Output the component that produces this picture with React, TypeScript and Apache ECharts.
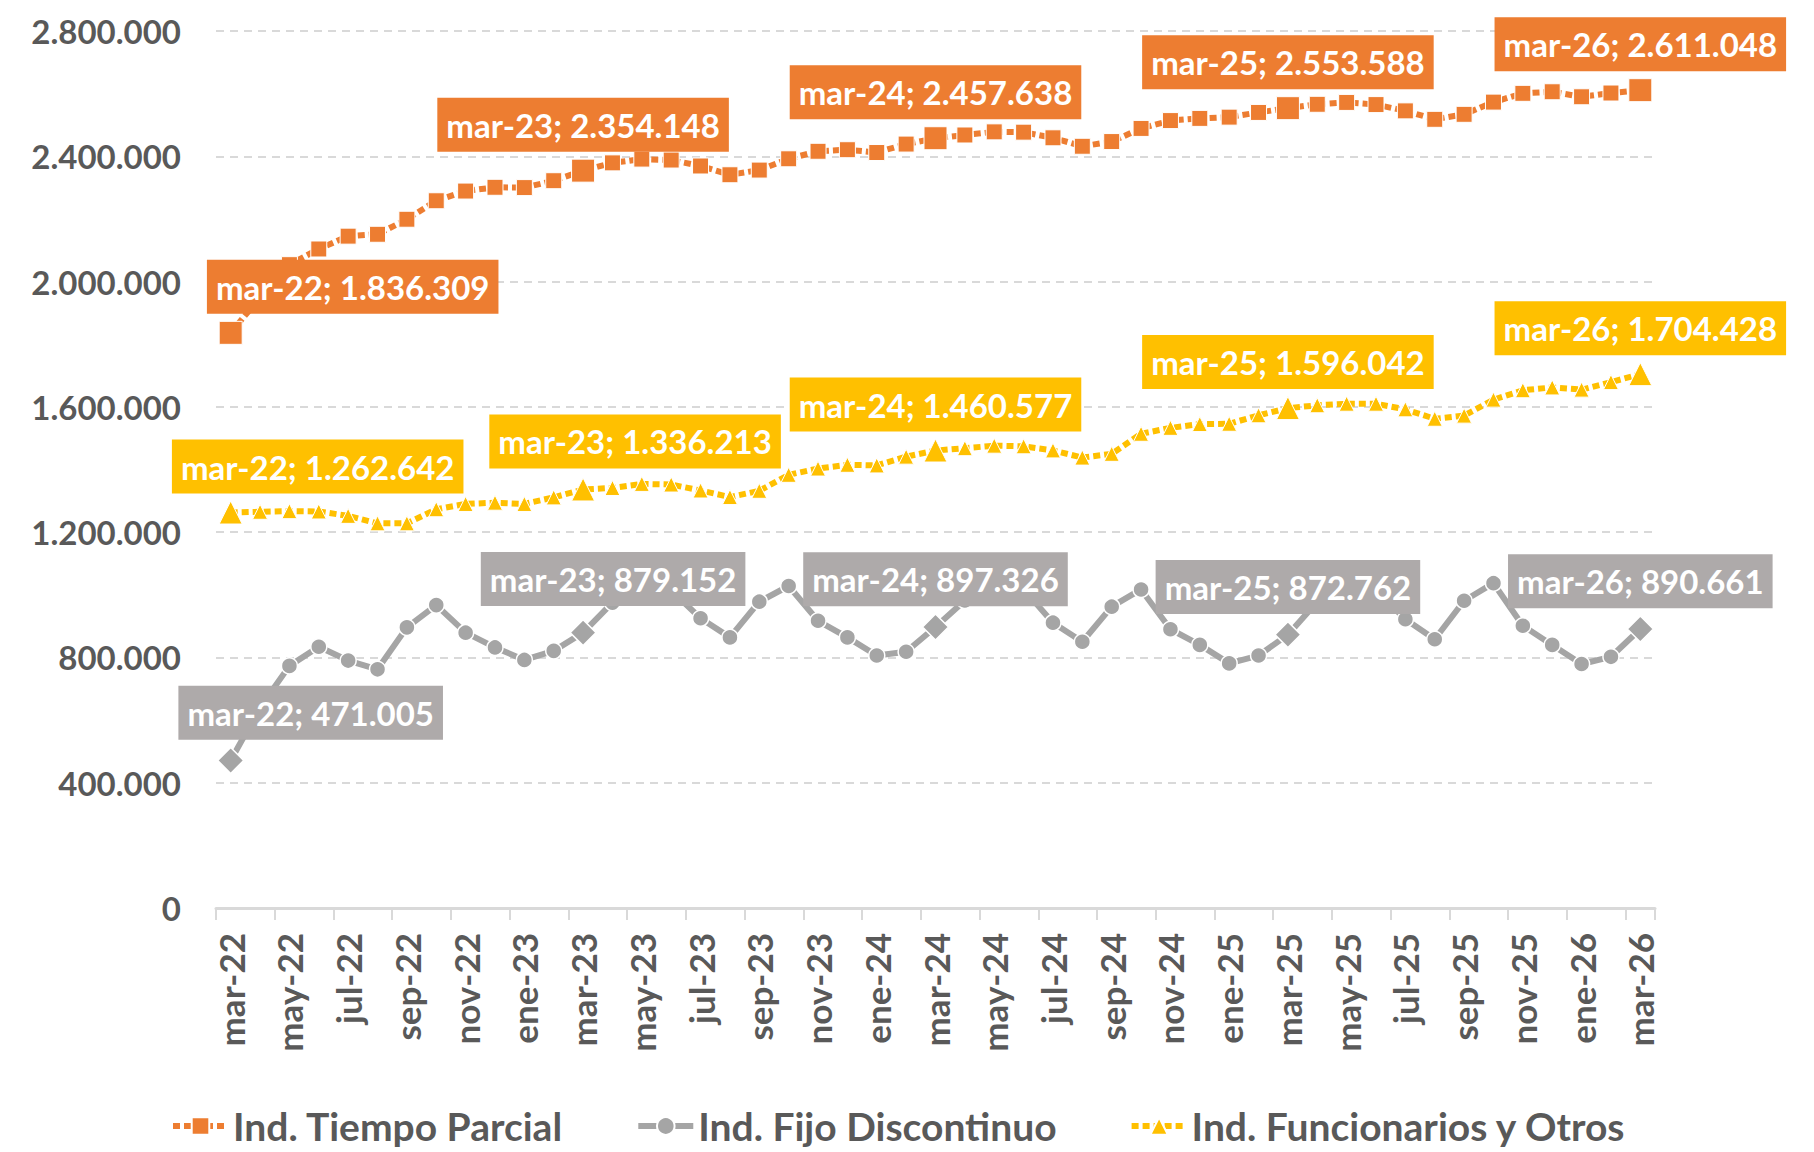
import React, { useEffect, useRef } from "react";
import * as echarts from "echarts";

const months = ["ene", "feb", "mar", "abr", "may", "jun", "jul", "ago", "sep", "oct", "nov", "dic"];
const categories: string[] = [];
for (let k = 0; k < 49; k++) {
  const m = (2 + k) % 12;
  const y = 22 + Math.floor((2 + k) / 12);
  categories.push(`${months[m]}-${y}`);
}

const tiempoParcial = [
  1836309, 1950000, 2054000, 2104000, 2145000, 2151000, 2199000, 2258000, 2289000, 2301000, 2300000, 2322000,
  2354148, 2379000, 2391000, 2388000, 2369000, 2341000, 2356000, 2392000, 2416000, 2421000, 2412000, 2439000,
  2457638, 2468000, 2478000, 2477000, 2459000, 2432000, 2447000, 2489000, 2514000, 2521000, 2525000, 2540000,
  2553588, 2566000, 2572000, 2565000, 2545000, 2518000, 2534000, 2573000, 2601000, 2606000, 2590000, 2602000,
  2611048,
];

const fijoDiscontinuo = [
  471005, 640000, 773000, 834000, 790000, 762000, 896000, 967000, 879000, 832000, 792000, 821000,
  879152, 975000, 1000000, 1014000, 925000, 864000, 978000, 1028000, 917000, 864000, 806000, 818000,
  897326, 982000, 1010000, 1018000, 911000, 850000, 962000, 1017000, 890000, 840000, 781000, 806000,
  872762, 978000, 1005000, 1015000, 922000, 858000, 981000, 1037000, 901000, 840000, 779000, 802000,
  890661,
];

const funcionarios = [
  1262642, 1265000, 1267000, 1266000, 1252000, 1228000, 1228000, 1273000, 1290000, 1294000, 1290000, 1311000,
  1336213, 1341000, 1354000, 1352000, 1333000, 1312000, 1332000, 1383000, 1403000, 1415000, 1413000, 1441000,
  1460577, 1468000, 1476000, 1474000, 1461000, 1438000, 1450000, 1514000, 1533000, 1545000, 1546000, 1573000,
  1596042, 1605000, 1610000, 1610000, 1592000, 1562000, 1572000, 1623000, 1653000, 1662000, 1655000, 1679000,
  1704428,
];

const seriesNames = ["Ind. Tiempo Parcial", "Ind. Fijo Discontinuo", "Ind. Funcionarios y Otros"];
const yTicks = [0, 400000, 800000, 1200000, 1600000, 2000000, 2400000, 2800000];
const labeledIdx = [0, 12, 24, 36, 48];

const FONT = "Lato, 'Noto Sans', sans-serif";
const TEXT = "#595959";

const fmt = (v: number) => String(Math.round(v)).replace(/\B(?=(\d{3})+(?!\d))/g, ".");

function buildData(
  values: number[],
  bigSymbol: string,
  bigSize: number,
  offsets: Record<number, [number, number]>
) {
  return values.map((v, i) => {
    if (labeledIdx.indexOf(i) >= 0) {
      return {
        value: v,
        symbol: bigSymbol,
        symbolSize: bigSize,
        label: { show: true, offset: offsets[i] || [0, 0] },
      };
    }
    return { value: v };
  });
}

function labelStyle(bg: string) {
  return {
    show: false,
    position: "top",
    distance: 7,
    backgroundColor: bg,
    color: "#ffffff",
    fontFamily: FONT,
    fontWeight: "bold",
    fontSize: 33,
    lineHeight: 36,
    padding: [9, 9, 9, 9],
    formatter: (p: any) => `${p.name}; ${fmt(p.value)}`,
  };
}

export default function App() {
  const ref = useRef<HTMLDivElement>(null);
  useEffect(() => {
    if (!ref.current) return;
    const chart = echarts.init(ref.current, null, { renderer: "svg" });
    const orange = "#ED7D31";
    const gray = "#A5A5A5";
    const yellow = "#FFC000";
    chart.setOption({
      animation: false,
      backgroundColor: "#ffffff",
      textStyle: { fontFamily: FONT },
      grid: { left: 216, right: 159, top: 31, bottom: 244, containLabel: false },
      legend: {
        data: seriesNames,
        left: 165,
        top: 1101,
        itemWidth: 55,
        itemHeight: 22,
        itemGap: 72,
        lineStyle: { width: 6 },
        textStyle: { color: TEXT, fontFamily: FONT, fontWeight: "bold", fontSize: 39, lineHeight: 40 },
      },
      xAxis: {
        type: "category",
        data: categories,
        boundaryGap: true,
        axisLine: { lineStyle: { color: "#D9D9D9", width: 3 } },
        axisTick: { show: true, interval: 1, length: 12, lineStyle: { color: "#D9D9D9", width: 2 } },
        axisLabel: {
          interval: 1,
          rotate: 90,
          margin: 25,
          color: TEXT,
          fontFamily: FONT,
          fontWeight: "bold",
          fontSize: 35,
        },
        splitLine: { show: false },
      },
      yAxis: {
        type: "value",
        min: yTicks[0],
        max: yTicks[yTicks.length - 1],
        interval: 400000,
        axisLine: { show: false },
        axisTick: { show: false },
        axisLabel: {
          margin: 35,
          color: TEXT,
          fontFamily: FONT,
          fontWeight: "bold",
          fontSize: 33,
          formatter: (v: number) => fmt(v),
        },
        splitLine: { lineStyle: { color: "#D9D9D9", width: 2, type: [8, 6] } },
      },
      series: [
        {
          name: seriesNames[0],
          type: "line",
          data: buildData(tiempoParcial, "rect", 23, { 0: [122, 0] }),
          symbol: "rect",
          symbolSize: 16,
          showAllSymbol: true,
          color: orange,
          lineStyle: { color: orange, width: 6, type: [7, 4] },
          itemStyle: { color: orange, borderColor: "#ffffff", borderWidth: 1 },
          label: labelStyle(orange),
          z: 3,
        },
        {
          name: seriesNames[1],
          type: "line",
          data: buildData(fijoDiscontinuo, "diamond", 26, { 0: [80, 0], 12: [30, -6] }),
          symbol: "circle",
          symbolSize: 16,
          showAllSymbol: true,
          color: gray,
          lineStyle: { color: gray, width: 6 },
          itemStyle: { color: gray, borderColor: "#ffffff", borderWidth: 1.5 },
          label: labelStyle("#AEAAAA"),
          z: 2,
        },
        {
          name: seriesNames[2],
          type: "line",
          data: buildData(funcionarios, "triangle", 23, { 0: [87, 0], 12: [52, -2] }),
          symbol: "triangle",
          symbolSize: 15,
          showAllSymbol: true,
          color: yellow,
          lineStyle: { color: yellow, width: 6, type: [7, 4] },
          itemStyle: { color: yellow, borderColor: "#ffffff", borderWidth: 1 },
          label: labelStyle(yellow),
          z: 2,
        },
      ],
    });
    return () => chart.dispose();
  }, []);
  return (
    <div
      ref={ref}
      style={{ position: "absolute", left: 0, top: 0, width: 1814, height: 1152, background: "#fff" }}
    />
  );
}
